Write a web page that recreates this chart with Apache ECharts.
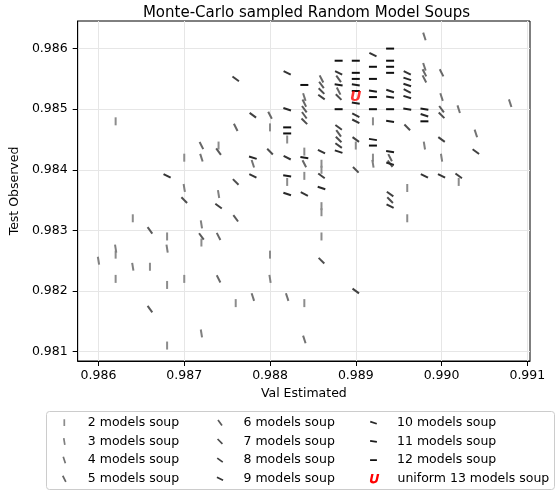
<!DOCTYPE html>
<html><head><meta charset="utf-8">
<script src="https://cdn.jsdelivr.net/npm/echarts@6/dist/echarts.min.js"></script>
<style>html,body{margin:0;padding:0;background:#fff}#c{width:555px;height:492px}</style>
</head><body><div id="c"></div>
<script>
const xTicks = [0.986, 0.987, 0.988, 0.989, 0.990, 0.991];
const yTicks = [0.981, 0.982, 0.983, 0.984, 0.985, 0.986];
const soupNames = ['2 models soup','3 models soup','4 models soup','5 models soup','6 models soup','7 models soup','8 models soup','9 models soup','10 models soup','11 models soup','12 models soup'];
const soupSizes = [2,3,4,5,6,7,8,9,10,11,12];
const soup2 = [[0.9862,0.9848],[0.9862,0.9826],[0.9862,0.9822],[0.9864,0.9832],[0.9866,0.9824],[0.9868,0.9829],[0.9868,0.9821],[0.9868,0.9811],[0.9870,0.9842],[0.9870,0.9822],[0.9872,0.9828],[0.9874,0.9844],[0.9876,0.9818],[0.9880,0.9847],[0.9880,0.9826],[0.9882,0.9845],[0.9882,0.9838],[0.9884,0.9843],[0.9884,0.9839],[0.9884,0.9818],[0.9886,0.9841],[0.9886,0.9840],[0.9886,0.9834],[0.9886,0.9833],[0.9886,0.9829],[0.9890,0.9844],[0.9892,0.9848],[0.9892,0.9842],[0.9896,0.9837],[0.9896,0.9832],[0.9902,0.9838]];
const soup3 = [[0.9860,0.9825],[0.9862,0.9827],[0.9864,0.9824],[0.9868,0.9827],[0.9870,0.9837],[0.9872,0.9831],[0.9872,0.9813],[0.9874,0.9836],[0.9880,0.9822],[0.9892,0.9841],[0.9898,0.9844],[0.9900,0.9842]];
const soup4 = [[0.9872,0.9842],[0.9878,0.9841],[0.9878,0.9819],[0.9882,0.9819],[0.9884,0.9812],[0.9898,0.9862],[0.9898,0.9857],[0.9900,0.9852],[0.9904,0.9846],[0.9908,0.9851],[0.9884,0.9852],[0.9902,0.9850]];
const soup5 = [[0.9872,0.9844],[0.9874,0.9829],[0.9874,0.9822],[0.9876,0.9847],[0.9880,0.9849],[0.9898,0.9856],[0.9898,0.9855],[0.9900,0.9856],[0.9884,0.9851],[0.9886,0.9855],[0.9888,0.9853],[0.9884,0.9841],[0.9894,0.9842]];
const soup6 = [[0.9866,0.9830],[0.9866,0.9817],[0.9876,0.9832],[0.9872,0.9829],[0.9874,0.9843],[0.9886,0.9854],[0.9888,0.9855],[0.9888,0.9846],[0.9900,0.9850],[0.9894,0.9841],[0.9884,0.9850],[0.9884,0.9849]];
const soup7 = [[0.9870,0.9835],[0.9876,0.9838],[0.9886,0.9853],[0.9888,0.9845],[0.9896,0.9847],[0.9900,0.9849],[0.9880,0.9843],[0.9886,0.9825],[0.9890,0.9840],[0.9894,0.9835],[0.9884,0.9848],[0.9888,0.9852]];
const soup8 = [[0.9874,0.9834],[0.9876,0.9855],[0.9878,0.9849],[0.9888,0.9847],[0.9886,0.9839],[0.9890,0.9845],[0.9894,0.9836],[0.9900,0.9845],[0.9902,0.9839],[0.9890,0.9820],[0.9886,0.9852],[0.9888,0.9844],[0.9904,0.9843]];
const soup9 = [[0.9868,0.9839],[0.9878,0.9839],[0.9882,0.9856],[0.9892,0.9859],[0.9896,0.9856],[0.9890,0.9849],[0.9898,0.9839],[0.9900,0.9839],[0.9884,0.9836],[0.9886,0.9843],[0.9894,0.9834],[0.9888,0.9856],[0.9896,0.9853],[0.9890,0.9848],[0.9882,0.9842]];
const soup10 = [[0.9878,0.9842],[0.9882,0.9850],[0.9882,0.9836],[0.9896,0.9855],[0.9894,0.9853],[0.9896,0.9852],[0.9888,0.9843],[0.9898,0.9849],[0.9896,0.9854],[0.9886,0.9837],[0.9894,0.9841]];
const soup11 = [[0.9882,0.9839],[0.9884,0.9842],[0.9890,0.9854],[0.9892,0.9845],[0.9894,0.9843],[0.9896,0.9850],[0.9898,0.9850],[0.9894,0.9852],[0.9888,0.9854],[0.9892,0.9853],[0.9890,0.9851],[0.9894,0.9848]];
const soup12 = [[0.9882,0.9847],[0.9882,0.9846],[0.9884,0.9854],[0.9888,0.9858],[0.9888,0.9850],[0.9890,0.9858],[0.9890,0.9856],[0.9890,0.9855],[0.9890,0.9853],[0.9892,0.9857],[0.9892,0.9855],[0.9892,0.9852],[0.9894,0.9860],[0.9894,0.9858],[0.9894,0.9857],[0.9894,0.9856],[0.9892,0.9850],[0.9894,0.9850],[0.9892,0.9844],[0.9898,0.9848]];
const uniformSoup = [[0.9890, 0.9852]];
const uniformName = 'uniform 13 models soup';

const soupData = [soup2,soup3,soup4,soup5,soup6,soup7,soup8,soup9,soup10,soup11,soup12];
const FONT = 'DejaVu Sans';
const barPath = 'path://M0,0L1,0L1,4L0,4Z';
const uPath = 'path://M-7,-7L-6.99,-7L-7,-6.99ZM7,7L6.99,7L7,6.99ZM-3.5,-6L-0.5,-6L-2.1,1.2Q-2.4,3.2 -0.4,3.2Q1.6,3.2 2.1,1.2L3.7,-6L6.7,-6L5,1.8Q4.1,6 -0.7,6Q-6,6 -5.1,1.6Z';

function grayFor(n){ const g = Math.round(140 - (n-2)*12.5); const h = g.toString(16).padStart(2,'0'); return '#'+h+h+h; }
function f(v){ return (Math.round(v*1000)/1000).toString(); }
// legend icon: bar rotated by deg (same sense as the plot symbols), inside a fixed invisible box
function barIcon(deg){
  const a = deg*Math.PI/180, L = 3.8, W = 0.95;
  const pts = [[-W,-L],[W,-L],[W,L],[-W,L]].map(([x,y])=>[x*Math.cos(a)+y*Math.sin(a), -x*Math.sin(a)+y*Math.cos(a)]);
  return 'path://M-5,-5L-4.99,-5L-5,-4.99ZM5,5L4.99,5L5,4.99ZM' + pts.map(p=>f(p[0])+','+f(p[1])).join('L') + 'Z';
}

const series = soupData.map((d,i)=>({
  type:'scatter', name: soupNames[i], data: d,
  symbol: barPath, symbolKeepAspect: true, symbolSize: 8,
  symbolRotate: (soupSizes[i]-2)*9,
  itemStyle: {color: grayFor(soupSizes[i]), opacity: 1},
  emphasis: {disabled: true}, animation: false
}));
series.push({
  type:'scatter', name: uniformName, data: uniformSoup,
  symbol: 'circle', symbolSize: 10,
  itemStyle: {color: 'rgba(255,0,0,0)'},
  label: {show: true, position: 'inside', formatter: 'U', color: '#ff0000', fontFamily: FONT, fontWeight: 'bold', fontStyle: 'italic', fontSize: 14},
  emphasis: {disabled: true}, animation: false
});

const legendCommon = {orient:'vertical', align:'left', padding:0, itemWidth:37, itemHeight:9, itemGap:4.7,
  textStyle:{fontFamily:FONT, fontSize:12.5, color:'#000', lineHeight:14}, selectedMode:false};
function legendItems(from, to){
  return soupNames.slice(from,to).map((n,k)=>({name:n, icon:barIcon((soupSizes[from+k]-2)*9),
    itemStyle:{color:grayFor(soupSizes[from+k]), opacity:1}}));
}

const chart = echarts.init(document.getElementById('c'), null, {renderer:'canvas'});
chart.setOption({
  animation:false,
  backgroundColor:'#fff',
  title:{text:'Monte-Carlo sampled Random Model Soups', left:301.5, textAlign:'center', top:1,
    textStyle:{fontFamily:FONT, fontSize:15, fontWeight:'normal', color:'#000'}},
  grid:{left:73, top:21, width:457, height:340, show:true, borderColor:'#000', borderWidth:1, containLabel:false},
  xAxis:{type:'value', min:0.9857575, max:0.9910312, name:'Val Estimated', nameLocation:'middle', nameGap:24,
    nameTextStyle:{fontFamily:FONT, fontSize:12.5, color:'#000'},
    axisLine:{show:true, onZero:false, lineStyle:{color:'#000', width:1}},
    axisTick:{show:true, customValues:xTicks, length:5, lineStyle:{color:'#000'}},
    axisLabel:{show:true, customValues:xTicks, formatter:v=>v.toFixed(3), fontFamily:FONT, fontSize:12.5, color:'#000', margin:8},
    splitLine:{show:true, lineStyle:{color:'#e6e6e6', width:1}}},
  yAxis:{type:'value', min:0.980845, max:0.9864554, name:'Test Observed', nameLocation:'middle', nameGap:50, nameRotate:90,
    nameTextStyle:{fontFamily:FONT, fontSize:12.5, color:'#000'},
    axisLine:{show:true, onZero:false, lineStyle:{color:'#000', width:1}},
    axisTick:{show:true, customValues:yTicks, length:5, lineStyle:{color:'#000'}},
    axisLabel:{show:true, customValues:yTicks, formatter:v=>v.toFixed(3), fontFamily:FONT, fontSize:12.5, color:'#000', margin:10},
    splitLine:{show:true, lineStyle:{color:'#e6e6e6', width:1}}},
  graphic:[{type:'rect', shape:{x:46.5, y:411.5, width:508, height:78, r:3}, style:{fill:'#fff', stroke:'#cccccc', lineWidth:1}, z:-1}],
  legend:[
    Object.assign({}, legendCommon, {left:59.8, top:415.7, data:legendItems(0,4)}),
    Object.assign({}, legendCommon, {left:215.5, top:415.7, data:legendItems(4,8)}),
    Object.assign({}, legendCommon, {left:369.0, top:415.7, data:legendItems(8,11)}),
    Object.assign({}, legendCommon, {left:368.5, top:471.7, itemHeight:11,
      data:[{name:uniformName, icon:uPath, itemStyle:{color:'#ff0000', opacity:1}}]})
  ],
  series: series
});
</script></body></html>
